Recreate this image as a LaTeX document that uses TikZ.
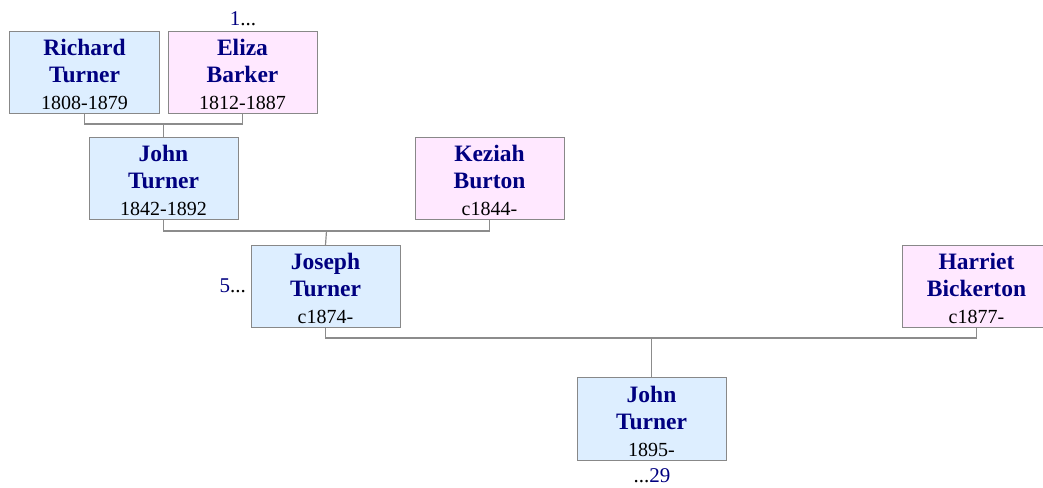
\documentclass[tikz,border=0pt]{standalone}
\usepackage{fontspec}
\setmainfont{Liberation Serif}
\usepackage{tikz}
\definecolor{malefill}{HTML}{DDEEFF}
\definecolor{femalefill}{HTML}{FFE8FF}
\definecolor{boxline}{HTML}{888888}
\definecolor{linkline}{HTML}{8C8C8C}
\definecolor{namecol}{HTML}{000080}
\newcommand{\namefont}{\fontsize{23.5bp}{27bp}\selectfont\bfseries\color{namecol}}
\newcommand{\person}[3]{\begin{tabular}[b]{@{}c@{}}\namefont #1\\ \namefont #2\\ \rmfamily #3\end{tabular}}
\tikzset{
  person/.style={draw=boxline, line width=1bp, inner sep=0pt,
    minimum width=149bp, text height=78bp, text depth=4bp,
    font=\rmfamily\fontsize{20bp}{27bp}\selectfont},
  male/.style={person, fill=malefill},
  female/.style={person, fill=femalefill},
  link/.style={draw=linkline, line width=1.2bp},
  more/.style={inner sep=0pt, font=\rmfamily\fontsize{21bp}{24bp}\selectfont}
}

\begin{document}
\begin{tikzpicture}[x=1bp,y=-1bp]
                \useasboundingbox (0,0) rectangle (1043,488);

                % grandparents
                \node[male] (richard) at (84.5,73) {\person{Richard}{Turner}{1808-1879}};
                \node[female] (eliza) at (242.5,73) {\person{Eliza}{Barker}{1812-1887}};

                % parents
                \node[male] (john) at (163.5,179) {\person{John}{Turner}{1842-1892}};
                \node[female] (keziah) at (489.5,179) {\person{Keziah}{Burton}{c1844-}};

                % couple
                \node[male] (joseph) at (325.5,286.5) {\person{Joseph}{Turner}{c1874-}};
                \node[female] (harriet) at (976.5,286.5) {\person{Harriet}{Bickerton}{c1877-}};

                % child
                \node[male] (johnjr) at (651.5,419) {\person{John}{Turner}{1895-}};

                % continuation marks
                \node[more, anchor=base] (more1) at (243,26) {\textcolor{namecol}{1}...};
                \node[more, anchor=base east] (more5) at (246,293) {\textcolor{namecol}{5}...};
                \node[more, anchor=base] (more29) at (652,482) {...\textcolor{namecol}{29}};

                % family links
                \coordinate (u1) at (163.5,124);
                \coordinate (u2) at (326.5,231);
                \coordinate (u3) at (651.5,338);
                \draw[link] (richard.south) |- (u1) -| (eliza.south);
                \draw[link] (u1) -- (john.north);
                \draw[link] (john.south) |- (u2) -| (keziah.south);
                \draw[link] (u2) -- (joseph.north);
                \draw[link] (joseph.south) |- (u3) -| (harriet.south);
                \draw[link] (u3) -- (johnjr.north);
\end{tikzpicture}
\end{document}
